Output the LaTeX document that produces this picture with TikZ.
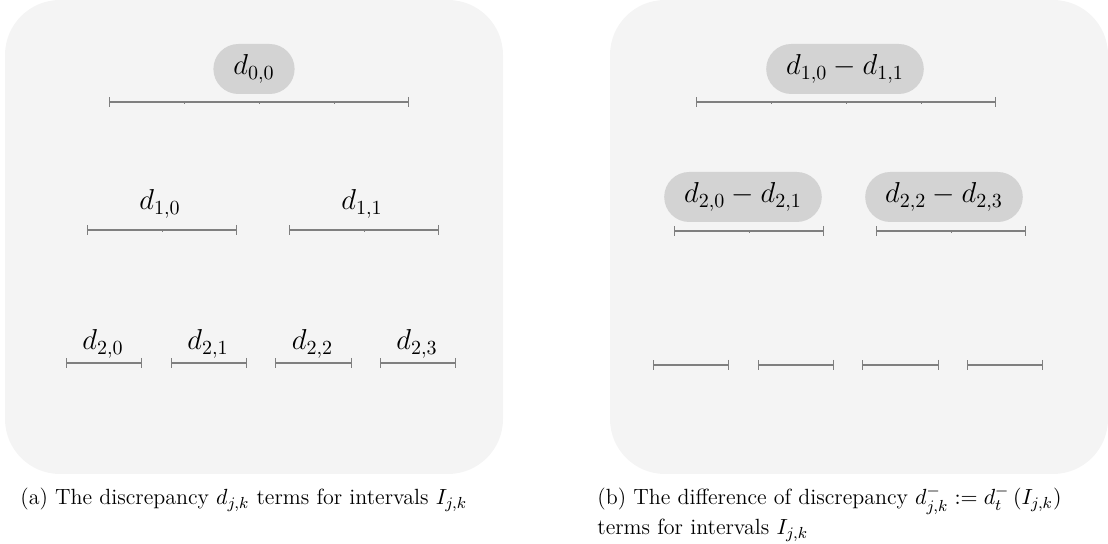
\documentclass[tikz,border=0pt]{standalone}
\usetikzlibrary{arrows.meta}
\definecolor{panelgray}{HTML}{F4F4F4}
\definecolor{pillgray}{HTML}{D3D3D3}
\definecolor{linegray}{HTML}{7F7F7F}
\tikzset{
  panel/.style={fill=panelgray, draw=none, rounded corners=27.5pt},
  seg/.style={draw=linegray, line width=0.7pt, {Bar[width=5pt,line width=0.7pt]}-{Bar[width=5pt,line width=0.7pt]}},
  tickmark/.style={draw=linegray, line width=0.5pt},
  pill/.style={fill=pillgray, rounded corners=12.5pt, minimum height=25pt, inner xsep=10pt, inner ysep=2pt, font=\Large},
  lab/.style={font=\Large, anchor=base, inner sep=0pt},
  captext/.style={font=\fontsize{11}{15}\selectfont, anchor=base west, inner sep=0pt},
}
\begin{document}
\begin{tikzpicture}[x=0.5pt, y=-0.5pt]
\useasboundingbox (0,0) rectangle (1108,544);
% panels
\fill[panel] (5,0) rectangle (503,474);
\fill[panel] (610,0) rectangle (1108,474);

% ===== panel (a) =====
% level 0
\coordinate (a00l) at (109,102); \coordinate (a00r) at (409,102);
\draw[seg] (a00l) -- (a00r);
\foreach \t in {184,259,334} \draw[tickmark] (\t,102) -- (\t,104);
\node[pill] (pa00) at (254,69) {$d_{0,0}$};
% level 1
\coordinate (a10l) at (87,230); \coordinate (a10r) at (237,230);
\coordinate (a11l) at (289,230); \coordinate (a11r) at (439,230);
\draw[seg] (a10l) -- (a10r);
\draw[seg] (a11l) -- (a11r);
\foreach \t in {162,364} \draw[tickmark] (\t,230) -- (\t,232);
\node[lab] (la10) at (160,210) {$d_{1,0}$};
\node[lab] (la11) at (362,210) {$d_{1,1}$};
% level 2
\foreach \l/\r/\k in {66/142/0, 171/247/1, 275/352/2, 380/456/3}{
  \coordinate (a2\k l) at (\l,363); \coordinate (a2\k r) at (\r,363);
  \draw[seg] (a2\k l) -- (a2\k r);
  \node[lab] (la2\k) at ({(\l+\r)/2-1},350) {$d_{2,\k}$};
}

% ===== panel (b) =====
\coordinate (b00l) at (696,102); \coordinate (b00r) at (996,102);
\draw[seg] (b00l) -- (b00r);
\foreach \t in {771,846,921} \draw[tickmark] (\t,102) -- (\t,104);
\node[pill] (pb00) at (845,69) {$d_{1,0}-d_{1,1}$};
\coordinate (b10l) at (674,231); \coordinate (b10r) at (824,231);
\coordinate (b11l) at (876,231); \coordinate (b11r) at (1026,231);
\draw[seg] (b10l) -- (b10r);
\draw[seg] (b11l) -- (b11r);
\foreach \t in {749,951} \draw[tickmark] (\t,231) -- (\t,233);
\node[pill] (pb10) at (743,197) {$d_{2,0}-d_{2,1}$};
\node[pill] (pb11) at (944,197) {$d_{2,2}-d_{2,3}$};
\foreach \l/\r/\k in {653/729/0, 758/834/1, 862/939/2, 967/1043/3}{
  \coordinate (b2\k l) at (\l,365); \coordinate (b2\k r) at (\r,365);
  \draw[seg] (b2\k l) -- (b2\k r);
}

% captions
\node[captext] (capa) at (20,505) {(a) The discrepancy $d_{j,k}$ terms for intervals $I_{j,k}$};
\node[captext] (capb) at (597,505) {(b) The difference of discrepancy $d^-_{j,k} := d^-_t\,(I_{j,k})$};
\node[captext] (capb2) at (597,535) {terms for intervals $I_{j,k}$};
\end{tikzpicture}
\end{document}
